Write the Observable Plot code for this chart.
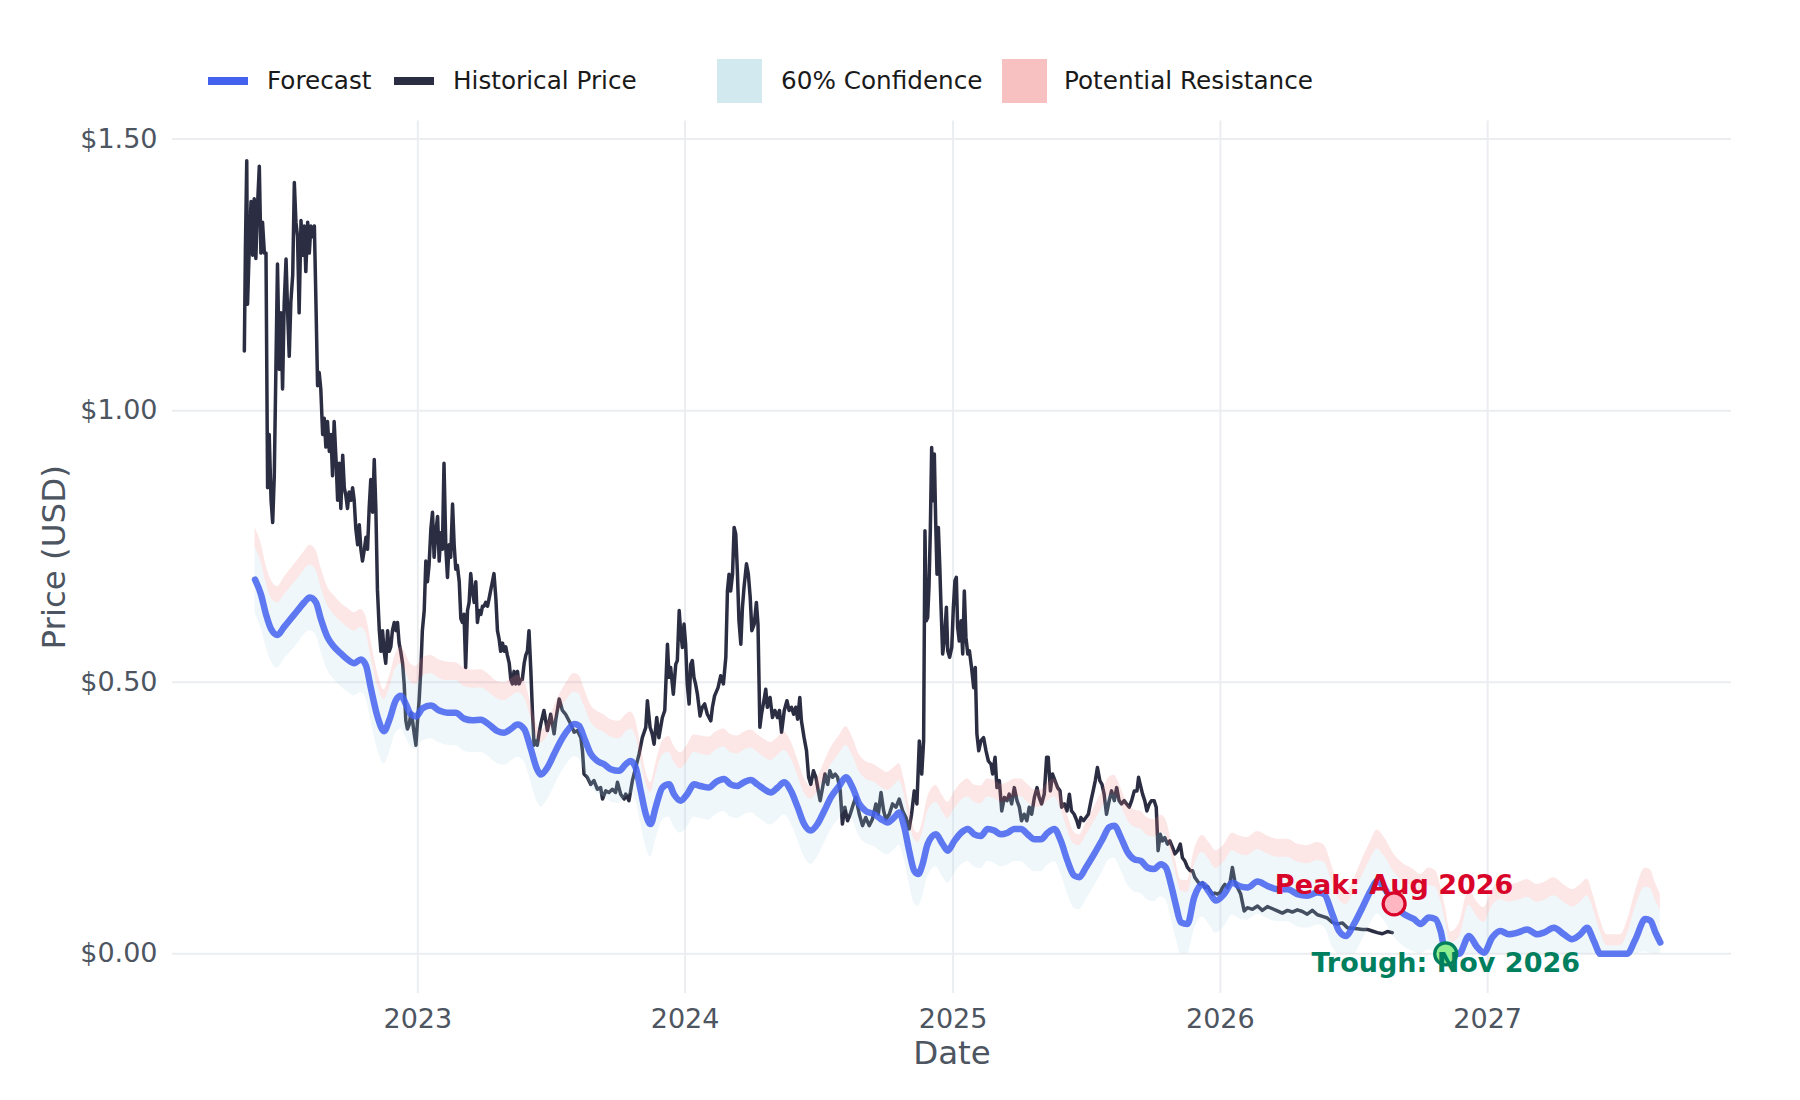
<!DOCTYPE html>
<html>
<head>
<meta charset="utf-8">
<script src="https://cdn.jsdelivr.net/npm/d3@7"></script>
<script src="https://cdn.jsdelivr.net/npm/@observablehq/plot@0.6"></script>
<style>
  html, body { margin: 0; padding: 0; background: #ffffff; }
  body { font-family: "DejaVu Sans", sans-serif; }
  #wrap { position: relative; width: 1800px; height: 1100px; overflow: hidden; background: #fff; }
  #legend { position: absolute; left: 0; top: 0; width: 1800px; height: 110px; }
  .sw-line { position: absolute; top: 77px; height: 8px; }
  .sw-box { position: absolute; top: 59px; width: 45px; height: 44px; }
  .lt { position: absolute; top: 81px; transform: translateY(-50%); font-size: 24.7px; line-height: 1; color: #1a1a1a; white-space: nowrap; }
  #chart { position: absolute; left: 0; top: 110px; }
</style>
</head>
<body>
<div id="wrap">
  <div id="legend"></div>
  <div id="chart"></div>
</div>
<script>
// ---------------- DATA ----------------
// Historical price: [decimal year, USD]
const histPoints = [
[2022.351,1.110],[2022.355,1.300],[2022.360,1.460],[2022.363,1.196],[2022.370,1.310],[2022.376,1.385],[2022.382,1.286],[2022.388,1.390],[2022.394,1.280],[2022.401,1.385],
[2022.407,1.450],[2022.413,1.290],[2022.419,1.347],[2022.426,1.290],[2022.432,1.290],[2022.438,0.858],[2022.444,0.956],[2022.451,0.835],[2022.457,0.794],[2022.463,0.880],
[2022.469,1.076],[2022.475,1.270],[2022.482,1.076],[2022.488,1.180],[2022.494,1.040],[2022.500,1.196],[2022.507,1.279],[2022.513,1.180],[2022.519,1.100],[2022.525,1.200],
[2022.532,1.250],[2022.538,1.420],[2022.544,1.347],[2022.550,1.320],[2022.556,1.180],[2022.563,1.350],[2022.569,1.286],[2022.575,1.340],[2022.581,1.256],[2022.588,1.347],
[2022.594,1.290],[2022.600,1.340],[2022.606,1.320],[2022.613,1.340],[2022.619,1.196],[2022.625,1.046],[2022.631,1.070],[2022.637,1.040],[2022.644,0.956],[2022.650,0.986],
[2022.656,0.933],[2022.662,0.980],[2022.669,0.925],[2022.675,0.956],[2022.681,0.880],[2022.687,0.980],[2022.694,0.910],[2022.700,0.835],[2022.706,0.903],[2022.712,0.820],
[2022.719,0.918],[2022.725,0.858],[2022.731,0.843],[2022.737,0.820],[2022.743,0.850],[2022.750,0.835],[2022.756,0.858],[2022.762,0.835],[2022.768,0.783],[2022.775,0.753],
[2022.781,0.790],[2022.787,0.745],[2022.793,0.723],[2022.800,0.745],[2022.806,0.767],[2022.812,0.745],[2022.818,0.820],[2022.824,0.873],[2022.831,0.813],[2022.837,0.910],
[2022.843,0.820],[2022.849,0.670],[2022.856,0.595],[2022.862,0.557],[2022.868,0.595],[2022.874,0.557],[2022.880,0.535],[2022.887,0.595],[2022.893,0.557],[2022.899,0.565],
[2022.905,0.595],[2022.912,0.610],[2022.918,0.595],[2022.924,0.610],[2022.930,0.572],[2022.936,0.557],[2022.943,0.535],[2022.949,0.497],[2022.955,0.430],[2022.961,0.414],
[2022.968,0.422],[2022.974,0.444],[2022.980,0.430],[2022.986,0.407],[2022.993,0.384],[2022.999,0.430],[2023.005,0.467],[2023.011,0.520],[2023.017,0.595],[2023.024,0.632],
[2023.030,0.723],[2023.036,0.685],[2023.042,0.715],[2023.049,0.783],[2023.055,0.813],[2023.061,0.730],[2023.067,0.775],[2023.074,0.805],[2023.080,0.723],[2023.086,0.775],
[2023.092,0.745],[2023.098,0.903],[2023.105,0.745],[2023.111,0.693],[2023.117,0.753],[2023.123,0.730],[2023.130,0.828],[2023.136,0.753],[2023.142,0.708],[2023.148,0.715],
[2023.155,0.685],[2023.161,0.617],[2023.167,0.610],[2023.173,0.625],[2023.179,0.527],[2023.186,0.632],[2023.192,0.647],[2023.198,0.700],[2023.204,0.670],[2023.211,0.647],
[2023.217,0.685],[2023.223,0.610],[2023.229,0.632],[2023.236,0.625],[2023.242,0.640],[2023.248,0.640],[2023.254,0.647],[2023.261,0.640],[2023.267,0.655],[2023.273,0.670],
[2023.279,0.685],[2023.285,0.700],[2023.292,0.655],[2023.298,0.595],[2023.304,0.580],[2023.310,0.557],[2023.317,0.572],[2023.323,0.557],[2023.329,0.565],[2023.335,0.550],
[2023.342,0.535],[2023.348,0.505],[2023.354,0.497],[2023.360,0.520],[2023.367,0.497],[2023.373,0.520],[2023.379,0.497],[2023.385,0.505],[2023.391,0.505],[2023.398,0.535],
[2023.404,0.550],[2023.410,0.557],[2023.416,0.595],[2023.423,0.520],[2023.429,0.444],[2023.435,0.384],[2023.441,0.392],[2023.447,0.384],[2023.454,0.407],
[2023.460,0.423],[2023.472,0.448],[2023.485,0.411],[2023.497,0.441],[2023.510,0.405],[2023.516,0.430],[2023.529,0.469],[2023.541,0.448],[2023.553,0.441],[2023.572,0.423],
[2023.585,0.408],[2023.597,0.411],[2023.610,0.398],[2023.616,0.374],[2023.622,0.331],[2023.634,0.325],[2023.647,0.312],[2023.659,0.319],[2023.672,0.303],[2023.684,0.306],
[2023.691,0.285],[2023.703,0.300],[2023.715,0.297],[2023.728,0.303],[2023.740,0.297],[2023.747,0.316],[2023.759,0.294],[2023.772,0.285],[2023.778,0.294],[2023.790,0.282],
[2023.803,0.319],[2023.815,0.343],[2023.828,0.368],[2023.840,0.398],[2023.853,0.417],[2023.859,0.466],[2023.869,0.417],[2023.877,0.405],[2023.884,0.386],[2023.894,0.435],
[2023.902,0.398],[2023.915,0.435],[2023.924,0.448],[2023.934,0.570],[2023.940,0.509],[2023.946,0.527],[2023.956,0.478],[2023.965,0.533],[2023.971,0.540],[2023.978,0.632],
[2023.983,0.595],[2023.990,0.564],[2023.996,0.607],[2024.002,0.570],[2024.008,0.497],[2024.015,0.460],[2024.021,0.533],[2024.027,0.540],[2024.033,0.509],[2024.039,0.497],
[2024.046,0.478],[2024.056,0.438],[2024.064,0.454],[2024.073,0.460],[2024.083,0.441],[2024.096,0.429],[2024.102,0.454],[2024.110,0.475],[2024.123,0.490],[2024.133,0.512],
[2024.143,0.497],[2024.152,0.546],[2024.158,0.668],[2024.164,0.699],[2024.170,0.668],[2024.177,0.699],[2024.183,0.785],[2024.189,0.773],[2024.195,0.705],[2024.201,0.613],
[2024.208,0.570],[2024.214,0.638],[2024.220,0.675],[2024.229,0.718],[2024.236,0.699],[2024.243,0.656],[2024.249,0.595],[2024.258,0.607],[2024.266,0.647],[2024.272,0.607],
[2024.279,0.417],[2024.285,0.441],[2024.292,0.460],[2024.301,0.487],[2024.307,0.454],[2024.317,0.472],[2024.326,0.435],[2024.335,0.448],[2024.345,0.435],[2024.352,0.448],
[2024.360,0.408],[2024.370,0.448],[2024.380,0.466],[2024.388,0.448],[2024.397,0.454],[2024.405,0.441],[2024.413,0.454],[2024.420,0.432],[2024.428,0.472],[2024.434,0.429],
[2024.444,0.398],[2024.453,0.374],[2024.461,0.325],[2024.469,0.312],[2024.479,0.337],[2024.488,0.325],[2024.497,0.300],[2024.504,0.282],[2024.513,0.306],[2024.522,0.331],
[2024.532,0.312],[2024.540,0.337],[2024.550,0.325],[2024.560,0.331],[2024.569,0.325],[2024.579,0.300],
[2024.587,0.239],[2024.596,0.270],[2024.606,0.245],[2024.616,0.257],[2024.628,0.276],[2024.637,0.288],[2024.650,0.257],[2024.662,0.236],[2024.674,0.251],[2024.687,0.236],
[2024.699,0.248],[2024.712,0.276],[2024.721,0.257],[2024.731,0.297],[2024.741,0.263],[2024.749,0.248],[2024.762,0.257],[2024.774,0.276],[2024.787,0.270],[2024.799,0.285],
[2024.812,0.263],[2024.824,0.251],[2024.836,0.230],[2024.845,0.257],[2024.855,0.300],[2024.865,0.276],[2024.874,0.392],[2024.883,0.331],[2024.890,0.392],[2024.895,0.779],
[2024.900,0.613],[2024.905,0.619],[2024.910,0.675],[2024.915,0.779],[2024.920,0.932],[2024.925,0.834],[2024.930,0.920],[2024.935,0.797],[2024.940,0.699],[2024.945,0.785],
[2024.950,0.718],[2024.955,0.638],[2024.961,0.552],[2024.967,0.576],[2024.975,0.638],[2024.980,0.558],[2024.987,0.546],[2024.995,0.564],[2025.001,0.638],[2025.007,0.687],
[2025.012,0.693],[2025.017,0.601],[2025.023,0.576],[2025.030,0.613],[2025.036,0.552],[2025.042,0.668],[2025.048,0.583],[2025.055,0.552],[2025.061,0.558],[2025.069,0.527],
[2025.077,0.490],[2025.083,0.527],[2025.089,0.405],[2025.096,0.374],[2025.104,0.392],[2025.114,0.398],[2025.123,0.374],[2025.132,0.355],[2025.142,0.349],[2025.148,0.331],
[2025.157,0.362],[2025.164,0.306],[2025.173,0.319],[2025.182,0.263],[2025.192,0.288],[2025.202,0.282],[2025.210,0.294],[2025.219,0.276],[2025.229,0.306],[2025.239,0.282],
[2025.248,0.270],[2025.256,0.245],[2025.266,0.257],[2025.276,0.245],[2025.285,0.270],[2025.294,0.257],[2025.304,0.288],[2025.314,0.306],[2025.322,0.288],[2025.331,0.276],
[2025.341,0.294],[2025.350,0.362],[2025.356,0.362],[2025.364,0.300],[2025.372,0.331],[2025.381,0.319],[2025.391,0.306],[2025.400,0.300],[2025.406,0.270],[2025.416,0.276],
[2025.426,0.263],[2025.435,0.294],[2025.443,0.263],[2025.453,0.257],[2025.463,0.245],[2025.470,0.233],[2025.478,0.251],[2025.488,0.245],[2025.497,0.251],[2025.506,0.257],
[2025.516,0.282],[2025.524,0.300],[2025.532,0.319],[2025.540,0.343],[2025.549,0.319],[2025.557,0.312],[2025.565,0.294],[2025.574,0.257],[2025.584,0.282],[2025.593,0.300],
[2025.603,0.282],[2025.612,0.306],[2025.621,0.282],[2025.630,0.276],[2025.640,0.282],[2025.649,0.276],[2025.659,0.270],[2025.668,0.282],[2025.678,0.300],[2025.688,0.300],
[2025.694,0.325],[2025.700,0.312],[2025.709,0.294],[2025.717,0.282],[2025.725,0.263],[2025.734,0.276],[2025.742,0.282],[2025.752,0.282],[2025.760,0.270],[2025.767,0.190],
[2025.775,0.220],[2025.783,0.208],[2025.792,0.214],[2025.802,0.202],[2025.811,0.208],[2025.821,0.196],[2025.830,0.184],[2025.840,0.190],[2025.850,0.202],[2025.858,0.177],
[2025.867,0.171],[2025.877,0.159],[2025.887,0.153],[2025.896,0.153],[2025.904,0.141],[2025.914,0.134],[2025.924,0.128],[2025.933,0.131],[2025.942,0.122],[2025.952,0.124],
[2025.962,0.116],[2025.970,0.110],[2025.979,0.112],[2025.989,0.110],[2025.999,0.113],[2026.008,0.122],[2026.017,0.128],[2026.027,0.122],[2026.037,0.134],[2026.045,0.159],
[2026.054,0.134],[2026.064,0.122],[2026.076,0.110],[2026.089,0.079],[2026.101,0.085],[2026.120,0.082],[2026.139,0.088],[2026.157,0.080],[2026.176,0.087],[2026.195,0.083],
[2026.213,0.079],[2026.232,0.075],[2026.251,0.080],[2026.269,0.077],[2026.288,0.081],[2026.307,0.078],[2026.325,0.073],[2026.344,0.080],[2026.363,0.072],[2026.382,0.069],
[2026.400,0.066],[2026.419,0.058],[2026.438,0.055],[2026.456,0.057],[2026.465,0.053],[2026.475,0.048],[2026.494,0.047],[2026.512,0.046],[2026.531,0.045],[2026.550,0.045],
[2026.568,0.042],[2026.587,0.039],[2026.606,0.037],[2026.625,0.041],[2026.643,0.039]
];

// Forecast dates (decimal years) and values
const fcYear = [
2022.391,2022.413,2022.432,2022.451,2022.475,2022.500,2022.525,2022.550,2022.575,2022.596,
2022.619,2022.637,2022.662,2022.687,2022.712,2022.737,2022.762,2022.787,2022.806,2022.824,
2022.849,2022.874,2022.893,2022.918,2022.937,2022.955,2022.974,2022.993,2023.018,2023.049,
2023.080,2023.111,2023.142,2023.173,2023.204,2023.236,2023.267,2023.298,2023.323,2023.348,
2023.373,2023.398,2023.423,2023.447,2023.460,2023.485,2023.510,2023.535,2023.560,2023.585,
2023.603,2023.622,2023.647,2023.672,2023.697,2023.722,2023.753,2023.778,2023.796,2023.815,
2023.834,2023.853,2023.871,2023.890,2023.915,2023.940,2023.958,2023.983,2024.008,2024.033,
2024.058,2024.089,2024.114,2024.145,2024.170,2024.195,2024.220,2024.245,2024.270,2024.295,
2024.320,2024.345,2024.370,2024.395,2024.420,2024.444,2024.469,2024.494,2024.519,2024.544,
2024.575,2024.600,2024.625,2024.650,2024.674,2024.706,2024.731,2024.755,2024.780,2024.799,
2024.818,2024.836,2024.855,2024.870,2024.886,2024.905,2024.936,2024.961,2024.980,2025.005,
2025.030,2025.055,2025.079,2025.104,2025.129,2025.154,2025.179,2025.204,2025.229,2025.254,
2025.279,2025.304,2025.329,2025.354,2025.379,2025.403,2025.428,2025.453,2025.472,2025.497,
2025.528,2025.559,2025.584,2025.603,2025.628,2025.653,2025.678,2025.703,2025.727,2025.752,
2025.777,2025.796,2025.815,2025.833,2025.852,2025.877,2025.902,2025.933,2025.958,2025.983,
2026.014,2026.045,2026.070,2026.101,2026.139,2026.176,2026.213,2026.251,2026.288,2026.325,
2026.363,2026.388,2026.419,2026.444,2026.469,2026.500,2026.531,2026.562,2026.587,2026.612,
2026.650,2026.687,2026.724,2026.749,2026.780,2026.805,2026.824,2026.843,2026.861,2026.893,
2026.930,2026.961,2026.986,2027.017,2027.048,2027.079,2027.111,2027.148,2027.185,2027.210,
2027.248,2027.285,2027.316,2027.347,2027.372,2027.397,2027.422,2027.447,2027.497,2027.522,
2027.553,2027.590,2027.609,2027.628,2027.646
];
const fcPrice = [
0.689,0.662,0.625,0.598,0.587,0.602,0.617,0.632,0.647,0.656,
0.647,0.617,0.583,0.565,0.553,0.542,0.535,0.542,0.531,0.490,
0.437,0.410,0.430,0.467,0.475,0.460,0.441,0.437,0.452,0.457,
0.448,0.444,0.444,0.433,0.430,0.431,0.422,0.410,0.407,0.414,
0.422,0.414,0.377,0.339,0.330,0.343,0.368,0.392,0.411,0.423,
0.420,0.398,0.368,0.355,0.349,0.340,0.337,0.349,0.355,0.343,
0.300,0.257,0.239,0.270,0.306,0.312,0.294,0.282,0.294,0.312,
0.309,0.306,0.316,0.322,0.312,0.309,0.316,0.320,0.312,0.303,
0.297,0.306,0.316,0.300,0.270,0.239,0.227,0.239,0.263,0.288,
0.309,0.325,0.306,0.276,0.263,0.257,0.248,0.242,0.251,0.260,
0.233,0.190,0.153,0.147,0.165,0.202,0.220,0.202,0.190,0.208,
0.223,0.230,0.220,0.217,0.230,0.227,0.220,0.223,0.230,0.230,
0.220,0.211,0.211,0.223,0.230,0.208,0.171,0.144,0.141,0.159,
0.184,0.211,0.233,0.236,0.214,0.187,0.174,0.171,0.159,0.156,
0.165,0.159,0.128,0.091,0.058,0.055,0.104,0.128,0.114,0.098,
0.110,0.131,0.125,0.122,0.133,0.125,0.119,0.119,0.110,0.107,
0.113,0.110,0.073,0.042,0.033,0.055,0.085,0.116,0.134,0.122,
0.091,0.073,0.064,0.055,0.067,0.064,0.042,0.002,0.000,0.000,
0.033,0.012,0.002,0.030,0.042,0.036,0.039,0.045,0.036,0.039,
0.048,0.036,0.027,0.036,0.048,0.024,0.000,0.000,0.000,0.000,
0.027,0.064,0.061,0.039,0.021
];
// 60% confidence band (lower / upper) and potential-resistance upper edge
const confLow = [
0.627,0.600,0.566,0.538,0.526,0.543,0.556,0.571,0.588,0.595,
0.587,0.558,0.522,0.505,0.492,0.482,0.475,0.481,0.471,0.430,
0.377,0.350,0.369,0.407,0.414,0.399,0.381,0.377,0.392,0.396,
0.388,0.384,0.383,0.373,0.370,0.371,0.362,0.350,0.347,0.354,
0.362,0.354,0.317,0.279,0.270,0.283,0.308,0.332,0.351,0.363,
0.360,0.338,0.308,0.295,0.289,0.280,0.277,0.289,0.295,0.283,
0.240,0.197,0.178,0.209,0.246,0.252,0.234,0.222,0.234,0.252,
0.249,0.246,0.256,0.262,0.252,0.249,0.256,0.260,0.252,0.243,
0.237,0.246,0.256,0.240,0.210,0.179,0.165,0.178,0.203,0.228,
0.249,0.265,0.246,0.216,0.203,0.197,0.188,0.182,0.191,0.200,
0.173,0.130,0.093,0.087,0.105,0.142,0.160,0.142,0.130,0.148,
0.163,0.170,0.160,0.157,0.170,0.167,0.160,0.163,0.170,0.170,
0.160,0.151,0.151,0.163,0.170,0.148,0.111,0.084,0.081,0.099,
0.124,0.151,0.173,0.176,0.154,0.127,0.114,0.111,0.099,0.096,
0.105,0.099,0.068,0.031,0.000,0.000,0.044,0.068,0.054,0.038,
0.050,0.071,0.065,0.062,0.073,0.065,0.059,0.059,0.050,0.047,
0.053,0.050,0.013,0.000,0.000,0.000,0.025,0.056,0.074,0.062,
0.031,0.013,0.004,0.000,0.007,0.004,0.000,0.000,0.000,0.000,
0.000,0.000,0.000,0.000,0.000,0.000,0.000,0.000,0.000,0.000,
0.000,0.000,0.000,0.000,0.000,0.000,0.000,0.000,0.000,0.000,
0.000,0.004,0.001,0.000,0.000
];
const confHigh = [
0.748,0.722,0.684,0.655,0.646,0.660,0.676,0.690,0.706,0.716,
0.707,0.676,0.642,0.624,0.612,0.601,0.594,0.601,0.590,0.548,
0.494,0.468,0.488,0.526,0.534,0.519,0.500,0.496,0.511,0.516,
0.507,0.503,0.503,0.492,0.489,0.490,0.481,0.469,0.466,0.473,
0.481,0.472,0.435,0.396,0.388,0.401,0.427,0.451,0.470,0.482,
0.479,0.457,0.427,0.414,0.408,0.399,0.396,0.408,0.414,0.401,
0.357,0.314,0.297,0.329,0.365,0.371,0.353,0.341,0.353,0.371,
0.368,0.365,0.375,0.381,0.371,0.368,0.375,0.379,0.371,0.362,
0.356,0.365,0.375,0.359,0.329,0.297,0.285,0.298,0.322,0.347,
0.368,0.384,0.365,0.335,0.322,0.316,0.307,0.301,0.310,0.319,
0.292,0.248,0.211,0.205,0.223,0.261,0.279,0.261,0.249,0.267,
0.282,0.289,0.279,0.276,0.289,0.286,0.279,0.282,0.289,0.289,
0.279,0.270,0.270,0.282,0.289,0.267,0.229,0.202,0.199,0.217,
0.243,0.270,0.292,0.295,0.273,0.246,0.233,0.230,0.218,0.215,
0.224,0.218,0.186,0.149,0.116,0.113,0.162,0.187,0.173,0.157,
0.169,0.190,0.184,0.181,0.192,0.184,0.178,0.178,0.169,0.166,
0.172,0.169,0.131,0.100,0.091,0.113,0.144,0.175,0.193,0.181,
0.150,0.132,0.123,0.114,0.126,0.123,0.098,0.058,0.020,0.030,
0.090,0.068,0.058,0.088,0.100,0.095,0.098,0.104,0.095,0.098,
0.107,0.095,0.086,0.095,0.107,0.080,0.040,0.015,0.015,0.035,
0.086,0.123,0.120,0.098,0.080
];
const resHigh = [
0.784,0.757,0.716,0.688,0.676,0.693,0.709,0.724,0.740,0.752,
0.743,0.712,0.676,0.659,0.646,0.636,0.628,0.634,0.621,0.578,
0.519,0.486,0.509,0.553,0.565,0.552,0.533,0.529,0.545,0.549,
0.541,0.537,0.536,0.526,0.522,0.523,0.514,0.501,0.499,0.506,
0.513,0.503,0.462,0.420,0.410,0.425,0.455,0.481,0.502,0.516,
0.513,0.490,0.458,0.446,0.440,0.431,0.428,0.440,0.445,0.430,
0.384,0.336,0.315,0.350,0.391,0.400,0.383,0.370,0.384,0.403,
0.401,0.399,0.408,0.414,0.404,0.401,0.408,0.412,0.404,0.395,
0.389,0.398,0.408,0.391,0.358,0.324,0.308,0.324,0.352,0.379,
0.401,0.418,0.398,0.367,0.354,0.348,0.340,0.334,0.343,0.350,
0.320,0.272,0.230,0.222,0.243,0.288,0.310,0.291,0.279,0.298,
0.314,0.322,0.311,0.309,0.322,0.319,0.312,0.315,0.322,0.322,
0.312,0.302,0.302,0.315,0.322,0.298,0.256,0.224,0.219,0.240,
0.270,0.300,0.325,0.329,0.305,0.277,0.265,0.262,0.250,0.247,
0.255,0.247,0.212,0.171,0.136,0.135,0.190,0.218,0.205,0.190,
0.201,0.222,0.217,0.214,0.225,0.217,0.211,0.211,0.202,0.199,
0.205,0.200,0.160,0.124,0.112,0.138,0.174,0.207,0.228,0.215,
0.183,0.165,0.155,0.146,0.158,0.153,0.125,0.082,0.040,0.055,
0.118,0.095,0.085,0.118,0.132,0.127,0.130,0.137,0.128,0.131,
0.140,0.127,0.118,0.127,0.138,0.105,0.062,0.035,0.035,0.060,
0.115,0.158,0.155,0.130,0.110
];

// Annotations
const annLabel = ["Peak: Aug 2026", "Trough: Nov 2026"];
const annYear  = [2026.650, 2026.843];
const annPrice = [0.092, 0.000];

// Axis ticks
const yTicks = [0, 0.5, 1.0, 1.5];
const xTickYears = [2023, 2024, 2025, 2026, 2027];

// Legend entries
const legendItems = [
  {label: "Forecast", kind: "line", color: "#4361ee", sw: 208, tx: 267},
  {label: "Historical Price", kind: "line", color: "#2b2d42", sw: 394, tx: 453},
  {label: "60% Confidence", kind: "box", color: "#d3e9f0", sw: 717, tx: 781},
  {label: "Potential Resistance", kind: "box", color: "#f8c1c1", sw: 1002, tx: 1064}
];

// ---------------- BUILD ----------------
function yr(t) {
  const y = Math.floor(t);
  const a = Date.UTC(y, 0, 1), b = Date.UTC(y + 1, 0, 1);
  return new Date(a + (t - y) * (b - a));
}
const hist = histPoints.map(([t, v]) => ({date: yr(t), price: v}));
const fc = fcYear.map((t, i) => ({date: yr(t), price: fcPrice[i], lo: confLow[i], mid: confHigh[i], hi: resHigh[i]}));
const ann = annLabel.map((l, i) => ({label: l, date: yr(annYear[i]), price: annPrice[i]}));
const xTicks = xTickYears.map(y => new Date(Date.UTC(y, 0, 1)));

// legend
const leg = document.getElementById("legend");
legendItems.forEach(it => {
  const s = document.createElement("div");
  if (it.kind === "line") {
    s.className = "sw-line";
    s.style.left = it.sw + "px";
    s.style.width = "40px";
  } else {
    s.className = "sw-box";
    s.style.left = it.sw + "px";
  }
  s.style.background = it.color;
  leg.appendChild(s);
  const t = document.createElement("div");
  t.className = "lt";
  t.style.left = it.tx + "px";
  t.textContent = it.label;
  leg.appendChild(t);
});

const axisColor = "#4d5561";
const chart = Plot.plot({
  width: 1800,
  height: 990,
  marginLeft: 172,
  marginRight: 69,
  marginTop: 10.6,
  marginBottom: 107,
  x: {type: "utc", domain: [new Date(Date.UTC(2022, 0, 31)), new Date(Date.UTC(2027, 10, 30))]},
  y: {domain: [-0.073, 1.533]},
  style: {fontFamily: "DejaVu Sans, sans-serif", fontSize: "27px", color: axisColor, background: "#ffffff", overflow: "visible"},
  marks: [
    Plot.gridY(yTicks, {stroke: "#ebedf0", strokeOpacity: 1, strokeWidth: 2}),
    Plot.gridX(xTicks, {stroke: "#ebedf0", strokeOpacity: 1, strokeWidth: 2}),
    Plot.line(hist, {x: "date", y: "price", stroke: "#2b2d42", strokeWidth: 3.5}),
    Plot.areaY(fc, {x: "date", y1: "lo", y2: "mid", fill: "#add8e6", fillOpacity: 0.2, curve: "monotone-x"}),
    Plot.areaY(fc, {x: "date", y1: "mid", y2: "hi", fill: "#f08080", fillOpacity: 0.2, curve: "monotone-x"}),
    Plot.line(fc, {x: "date", y: "price", stroke: "#4361ee", strokeWidth: 6.5, strokeOpacity: 0.85, curve: "monotone-x"}),
    Plot.text([ann[0]], {x: "date", y: "price", text: "label", dy: -19, fill: "#d90429", fontWeight: "bold", fontSize: 27}),
    Plot.dot([ann[0]], {x: "date", y: "price", r: 11, fill: "#ffb6c1", stroke: "#d90429", strokeWidth: 3.3}),
    Plot.dot([ann[1]], {x: "date", y: "price", r: 11, fill: "#90ee90", stroke: "#007f5f", strokeWidth: 3.3}),
    Plot.text([ann[1]], {x: "date", y: "price", text: "label", dy: 10, fill: "#007f5f", fontWeight: "bold", fontSize: 27}),
    Plot.axisY(yTicks, {tickSize: 0, tickPadding: 15, tickFormat: d3.format("$.2f"), label: null, fontSize: 27}),
    Plot.axisX(xTicks, {tickSize: 0, tickPadding: 15.5, tickFormat: d3.utcFormat("%Y"), label: null, fontSize: 27}),
    Plot.text(["Date"], {frameAnchor: "bottom", lineAnchor: "middle", textAnchor: "middle", dy: 60, fontSize: 32.5, fill: axisColor}),
    Plot.text(["Price (USD)"], {frameAnchor: "left", lineAnchor: "middle", textAnchor: "middle", dx: -118, rotate: -90, fontSize: 32.5, fill: axisColor})
  ]
});
document.getElementById("chart").appendChild(chart);
</script>
</body>
</html>
